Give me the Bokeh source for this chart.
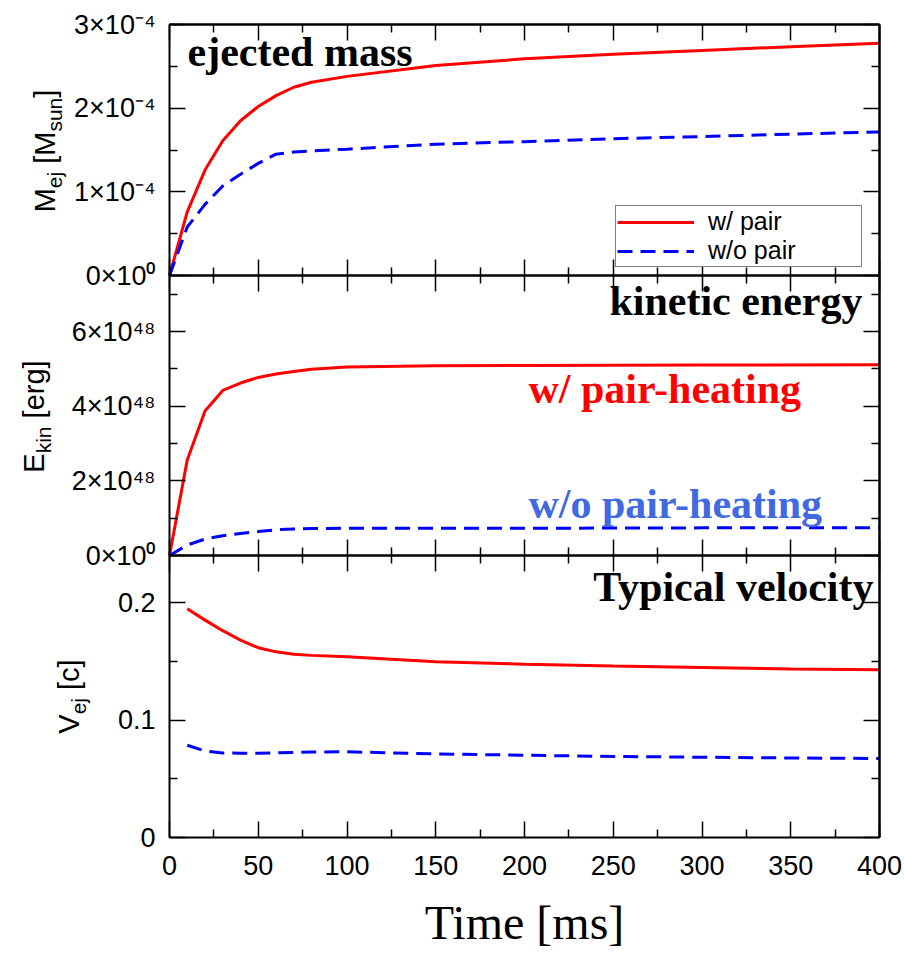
import math
from bokeh.plotting import figure
from bokeh.models import (Range1d, LinearAxis, FixedTicker, Label, Legend, LegendItem)
from bokeh.embed import file_html
from bokeh.resources import INLINE

# ---------------- data ----------------
time_mass = [0, 10, 20, 30, 40, 50, 60, 70, 80, 100, 150, 200, 250, 300, 350, 400]
mass_with_pair = [0, 0.76e-4, 1.26e-4, 1.61e-4, 1.85e-4, 2.02e-4, 2.15e-4, 2.25e-4, 2.31e-4,
                  2.38e-4, 2.51e-4, 2.59e-4, 2.645e-4, 2.69e-4, 2.735e-4, 2.775e-4]
mass_without_pair = [0, 0.58e-4, 0.85e-4, 1.07e-4, 1.21e-4, 1.34e-4, 1.45e-4, 1.475e-4, 1.49e-4,
                     1.51e-4, 1.57e-4, 1.60e-4, 1.635e-4, 1.66e-4, 1.69e-4, 1.715e-4]

time_ekin = [0, 10, 20, 30, 40, 50, 60, 70, 80, 100, 150, 200, 300, 400]
ekin_with_pair = [0, 2.56e48, 3.87e48, 4.42e48, 4.62e48, 4.77e48, 4.86e48, 4.93e48, 4.99e48,
                  5.05e48, 5.08e48, 5.09e48, 5.10e48, 5.11e48]
ekin_without_pair = [0, 0.28e48, 0.44e48, 0.53e48, 0.59e48, 0.64e48, 0.69e48, 0.71e48, 0.72e48,
                     0.73e48, 0.73e48, 0.73e48, 0.74e48, 0.74e48]

time_vel = [10, 20, 30, 40, 50, 60, 70, 80, 100, 150, 200, 250, 300, 350, 400]
vel_with_pair = [0.1946, 0.185, 0.176, 0.168, 0.1615, 0.158, 0.156, 0.155, 0.1538, 0.1495,
                 0.1475, 0.146, 0.1447, 0.1435, 0.1427]
vel_without_pair = [0.0785, 0.0737, 0.0720, 0.0718, 0.0718, 0.0720, 0.0724, 0.0728, 0.0729,
                    0.0712, 0.0700, 0.0690, 0.0683, 0.0677, 0.0672]

time_ticks = [0, 50, 100, 150, 200, 250, 300, 350, 400]
time_minor = [25, 75, 125, 175, 225, 275, 325, 375]
mass_ticks = [0, 1e-4, 2e-4, 3e-4]
mass_tick_labels = ["0×10⁰", "1×10⁻⁴", "2×10⁻⁴", "3×10⁻⁴"]
mass_minor = [0.5e-4, 1.5e-4, 2.5e-4]
ekin_ticks = [0, 2e48, 4e48, 6e48]
ekin_tick_labels = ["0×10⁰", "2×10⁴⁸", "4×10⁴⁸", "6×10⁴⁸"]
ekin_minor = [1e48, 3e48, 5e48, 7e48]
vel_ticks = [0, 0.1, 0.2]
vel_tick_labels = ["0", "0.1", "0.2"]
vel_minor = [0.05, 0.15]

# ---------------- layout (pixels) ----------------
W, H = 904, 954
FL, FR, FT, FB = 169, 879, 24, 837        # plot box edges in canvas pixels
FW, FH = FR - FL, FB - FT                 # 710 x 813
XMAX = 400
# panel strips: (offset of strip bottom above box bottom, strip height, value at strip top)
strips = {"vel": (0, 282, 0.24), "ekin": (282, 280, 7.5e48), "mass": (562, 251, 3e-4)}


def to_layout(name, v):
    b, h, vmax = strips[name]
    return b + v / vmax * h


def strip_range(name):
    b, h, vmax = strips[name]
    return Range1d(start=(-(H - FB) - b) / h * vmax, end=(FB - b) / h * vmax)


def px_to_t(px):
    return (px - FL) / FW * XMAX


def py_to_layout(py):
    return FB - py


p = figure(width=W, height=H,
           x_range=Range1d(px_to_t(0), px_to_t(W)),
           y_range=Range1d(py_to_layout(H), py_to_layout(0)),
           x_axis_location=None, y_axis_location=None,
           output_backend="svg", toolbar_location=None,
           min_border=0, min_border_left=0, min_border_right=0,
           min_border_top=0, min_border_bottom=0,
           outline_line_color=None,
           background_fill_color="white", border_fill_color="white")
for g in p.grid:
    g.visible = False
p.extra_y_ranges = {n: strip_range(n) for n in strips}

# ---------------- axes (fixed at the plot-box edges and panel boundaries) ----------------
major_pos, minor_pos, overrides = [], [], {}
for name, ticks, labels, minors in [("vel", vel_ticks, vel_tick_labels, vel_minor),
                                    ("ekin", ekin_ticks, ekin_tick_labels, ekin_minor),
                                    ("mass", mass_ticks, mass_tick_labels, mass_minor)]:
    for v, lab in zip(ticks, labels):
        y = to_layout(name, v)
        major_pos.append(y)
        overrides[y] = lab
    for v in minors:
        minor_pos.append(to_layout(name, v))

TICK_FONT = "Liberation Sans"
TICK_SIZE = "27px"


def base_style(ax, tin, tout, mtin=8, mtout=0):
    ax.major_tick_in = tin
    ax.major_tick_out = tout
    ax.minor_tick_in = mtin
    ax.minor_tick_out = mtout
    ax.major_tick_line_color = "black"
    ax.minor_tick_line_color = "black"
    ax.major_tick_line_width = 1.5
    ax.minor_tick_line_width = 1.5
    ax.axis_line_color = "black"
    ax.axis_line_width = 2


def bare_axes(side, loc, bounds, majors, minors, both_sides=False):
    """Tick-only axes (no tick labels): majors and minors drawn as two tick sets."""
    for pos, length in ((majors, 16), (minors, 8)):
        ax = LinearAxis(ticker=FixedTicker(ticks=[], minor_ticks=list(pos)),
                        fixed_location=loc, bounds=bounds)
        base_style(ax, 0, 0, length, length if both_sides else 0)
        p.add_layout(ax, side)


# left axis with labels
left = LinearAxis(ticker=FixedTicker(ticks=major_pos, minor_ticks=minor_pos),
                  major_label_overrides=overrides, fixed_location=0, bounds=(0, FH))
base_style(left, 16, 0)
left.major_label_text_font = TICK_FONT
left.major_label_text_font_size = TICK_SIZE
left.major_label_text_color = "black"
left.major_label_standoff = 14
p.add_layout(left, "left")

# bottom axis with labels
below = LinearAxis(ticker=FixedTicker(ticks=time_ticks, minor_ticks=time_minor),
                   fixed_location=0, bounds=(0, XMAX), axis_label="Time [ms]")
base_style(below, 16, 0)
below.major_label_text_font = TICK_FONT
below.major_label_text_font_size = TICK_SIZE
below.major_label_text_color = "black"
below.major_label_standoff = 18
below.axis_label_text_font = "Liberation Serif"
below.axis_label_text_font_style = "normal"
below.axis_label_text_font_size = "48px"
below.axis_label_text_color = "black"
below.axis_label_standoff = 18
p.add_layout(below, "below")

# mirrored ticks: right edge, top edge, and both panel boundaries
bare_axes("right", XMAX, (0, FH), major_pos, minor_pos)
bare_axes("above", FH, (0, XMAX), time_ticks, time_minor)
for name in ("ekin", "mass"):
    bare_axes("below", strips[name][0], (0, XMAX), time_ticks, time_minor, both_sides=True)

# ---------------- data lines ----------------
RED, BLUE = "#ff0000", "#0000ff"
DASH = "15 8"
r_m1 = p.line(time_mass, mass_with_pair, y_range_name="mass", line_color=RED, line_width=3)
r_m2 = p.line(time_mass, mass_without_pair, y_range_name="mass", line_color=BLUE, line_width=3,
              line_dash=DASH)
p.line(time_ekin, ekin_with_pair, y_range_name="ekin", line_color=RED, line_width=3)
p.line(time_ekin, ekin_without_pair, y_range_name="ekin", line_color=BLUE, line_width=3,
       line_dash=DASH)
p.line(time_vel, vel_with_pair, y_range_name="vel", line_color=RED, line_width=3)
p.line(time_vel, vel_without_pair, y_range_name="vel", line_color=BLUE, line_width=3,
       line_dash=DASH)

# ---------------- legend ----------------
legend = Legend(items=[LegendItem(label="w/ pair", renderers=[r_m1]),
                       LegendItem(label="w/o pair", renderers=[r_m2])],
                location=(615, H - 267), orientation="vertical",
                label_text_font="Liberation Sans", label_text_font_size="25px",
                label_text_color="black",
                glyph_width=77, glyph_height=26, label_height=26, label_width=152,
                label_standoff=14, spacing=-2, padding=1, margin=0,
                border_line_color="black", border_line_width=1.5,
                background_fill_color="white", background_fill_alpha=1.0)
p.add_layout(legend)

# ---------------- panel annotations ----------------
def serif_label(text, x_px, y_px, align, color="black"):
    p.add_layout(Label(x=px_to_t(x_px), y=py_to_layout(y_px), text=text, text_align=align,
                       text_baseline="alphabetic", text_font="Liberation Serif",
                       text_font_style="bold", text_font_size="42px", text_color=color))


serif_label("ejected mass", 187, 51, "left")
serif_label("kinetic energy", 862, 300, "right")
serif_label("Typical velocity", 873, 586, "right")
serif_label("w/ pair-heating", 528, 388, "left", RED)
serif_label("w/o pair-heating", 528, 503, "left", "#4169e1")

# ---------------- y titles with subscripts ----------------
AW = {'M': 833, 'E': 667, 'V': 667, 'e': 556, 'j': 222, 'k': 500, 'i': 222, 'n': 556,
      's': 500, 'u': 556, ' ': 278, '[': 278, ']': 278, 'r': 333, 'g': 556, 'c': 500}
FS_MAIN, FS_SUB, SUB_SHIFT = 29, 21, 10


def text_w(s, fs):
    return sum(AW.get(c, 556) for c in s) / 1000 * fs


def add_ytitle(parts, base_px, center_py):
    total = sum(text_w(s, FS_SUB if sub else FS_MAIN) for s, sub in parts)
    y = py_to_layout(center_py) - total / 2
    for s, sub in parts:
        fs = FS_SUB if sub else FS_MAIN
        lead = len(s) - len(s.lstrip(" "))
        y += text_w(" " * lead, fs)
        core = s.lstrip(" ")
        p.add_layout(Label(x=px_to_t(base_px + (SUB_SHIFT if sub else 0)), y=y, text=core,
                           angle=math.pi / 2, text_align="left", text_baseline="alphabetic",
                           text_font="Liberation Sans", text_font_size=f"{fs}px",
                           text_color="black"))
        y += text_w(core, fs)


add_ytitle([("M", False), ("ej", True), (" [M", False), ("sun", True), ("]", False)], 44, 150.5)
add_ytitle([("E", False), ("kin", True), (" [erg]", False)], 33, 416)
add_ytitle([("V", False), ("ej", True), (" [c]", False)], 68, 696)

open("out.html", "w").write(file_html(p, INLINE))
